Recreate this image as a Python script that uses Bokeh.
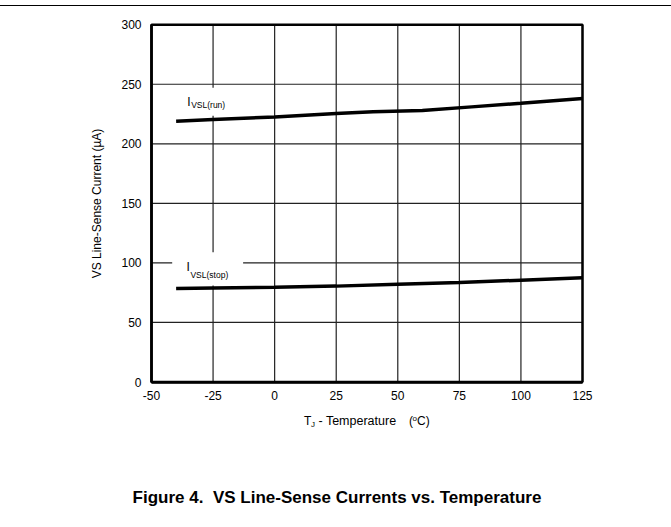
from bokeh.plotting import figure
from bokeh.models import Range1d, Label, FixedTicker, BoxAnnotation
from bokeh.embed import file_html
from bokeh.resources import INLINE

# data
temps_run = [-40, -25, 0, 25, 40, 60, 80, 100, 125]
i_run = [219, 220.5, 222.5, 225.5, 227, 228, 231, 234, 238]
temps_stop = [-40, -25, 0, 25, 50, 75, 100, 125]
i_stop = [78.5, 79, 79.5, 80.5, 82, 83.5, 85.5, 87.5]
x_ticks = [-50, -25, 0, 25, 50, 75, 100, 125]
y_ticks = [0, 50, 100, 150, 200, 250, 300]
caption = "Figure 4.\u00a0\u00a0VS Line-Sense Currents vs. Temperature"

FONT = "Liberation Sans"
X0, X1 = -50, 125
Y0, Y1 = 0, 300

# page geometry (pixels)
W, H = 671, 518
TOP = 6.5                       # canvas top on the page (below the rule)
FL, FR, FT, FB = 151, 582, 24.7, 382   # plot box on the page
sx = (FR - FL) / (X1 - X0)
sy = (FB - FT) / (Y1 - Y0)
xs = X0 - FL / sx
xe = X1 + (W - FR) / sx
ye = Y1 + (FT - TOP) / sy
ys = Y0 - (TOP + H - FB) / sy

def PX(px):
    return xs + px / sx

def PY(py):
    return ye - (py - TOP) / sy

p = figure(width=W, height=H, output_backend="svg", toolbar_location=None,
           x_range=Range1d(xs, xe), y_range=Range1d(ys, ye), min_border=0)
p.styles = {"border-top": "1.5px solid black", "margin-top": "5px"}
p.background_fill_color = "white"
p.border_fill_color = "white"
p.outline_line_color = None
p.grid.visible = False

p.xaxis.ticker = FixedTicker(ticks=x_ticks)
p.yaxis.ticker = FixedTicker(ticks=y_ticks)
p.xaxis.major_label_overrides = {t: str(t) for t in x_ticks}
p.xaxis.fixed_location = Y0
p.yaxis.fixed_location = X0
p.xaxis.bounds = (X0, X1)
p.yaxis.bounds = (Y0, Y1)
for ax in (p.xaxis, p.yaxis):
    ax.major_tick_out = 0
    ax.major_tick_in = 0
    ax.minor_tick_out = 0
    ax.minor_tick_in = 0
    ax.axis_line_color = "black"
    ax.axis_line_width = 2.5
    ax.major_label_text_font = FONT
    ax.major_label_text_font_size = "12px"
    ax.major_label_text_color = "black"
p.xaxis.major_label_standoff = 9
p.yaxis.major_label_standoff = 10
p.yaxis.axis_label = "VS Line-Sense Current (µA)"
p.yaxis.axis_label_text_font = FONT
p.yaxis.axis_label_text_font_size = "12px"
p.yaxis.axis_label_text_font_style = "normal"
p.yaxis.axis_label_text_color = "black"
p.yaxis.axis_label_standoff = 14

# grid lines at the tick values
p.segment(x0=x_ticks, y0=[Y0] * len(x_ticks), x1=x_ticks, y1=[Y1] * len(x_ticks),
          line_color="#222222", line_width=1.2)
p.segment(x0=[X0] * len(y_ticks), y0=y_ticks, x1=[X1] * len(y_ticks), y1=y_ticks,
          line_color="#222222", line_width=1.2)

# white backgrounds behind the curve labels
p.quad(left=[-41.8], right=[-12.7], bottom=[223.5], top=[247], fill_color="white", line_color=None)
p.quad(left=[-41.6], right=[-12.8], bottom=[81], top=[109], fill_color="white", line_color=None)

p.line(temps_run, i_run, line_color="black", line_width=3.5)
p.line(temps_stop, i_stop, line_color="black", line_width=3.5)

# plot box border
p.add_layout(BoxAnnotation(left=X0, right=X1, bottom=Y0, top=Y1, fill_alpha=0,
                           line_color="black", line_width=2.5, line_alpha=1))

def lab(x, y, text, size, align="left", style="normal"):
    p.add_layout(Label(x=x, y=y, text=text, text_font=FONT, text_font_size=size,
                       text_align=align, text_baseline="middle", text_font_style=style,
                       text_color="black"))

# curve labels
lab(-35.5, 235.3, "I", "12px")
lab(-33.9, 232.2, "VSL(run)", "8.5px")
lab(-35.8, 96.8, "I", "12px")
lab(-34.2, 90.0, "VSL(stop)", "8.5px")

# x-axis title with subscript / superscript
lab(PX(303.5), PY(421), "T", "12px")
lab(PX(310.5), PY(424), "J", "8px")
lab(PX(318), PY(421), " - Temperature", "12.5px")
lab(PX(408.5), PY(421), "(", "12px")
lab(PX(412), PY(418), "o", "8px")
lab(PX(416.5), PY(421), "C)", "12px")

# caption
lab(PX(336.5), PY(497), caption, "17px", align="center", style="bold")

open("out.html", "w").write(file_html(p, INLINE))
